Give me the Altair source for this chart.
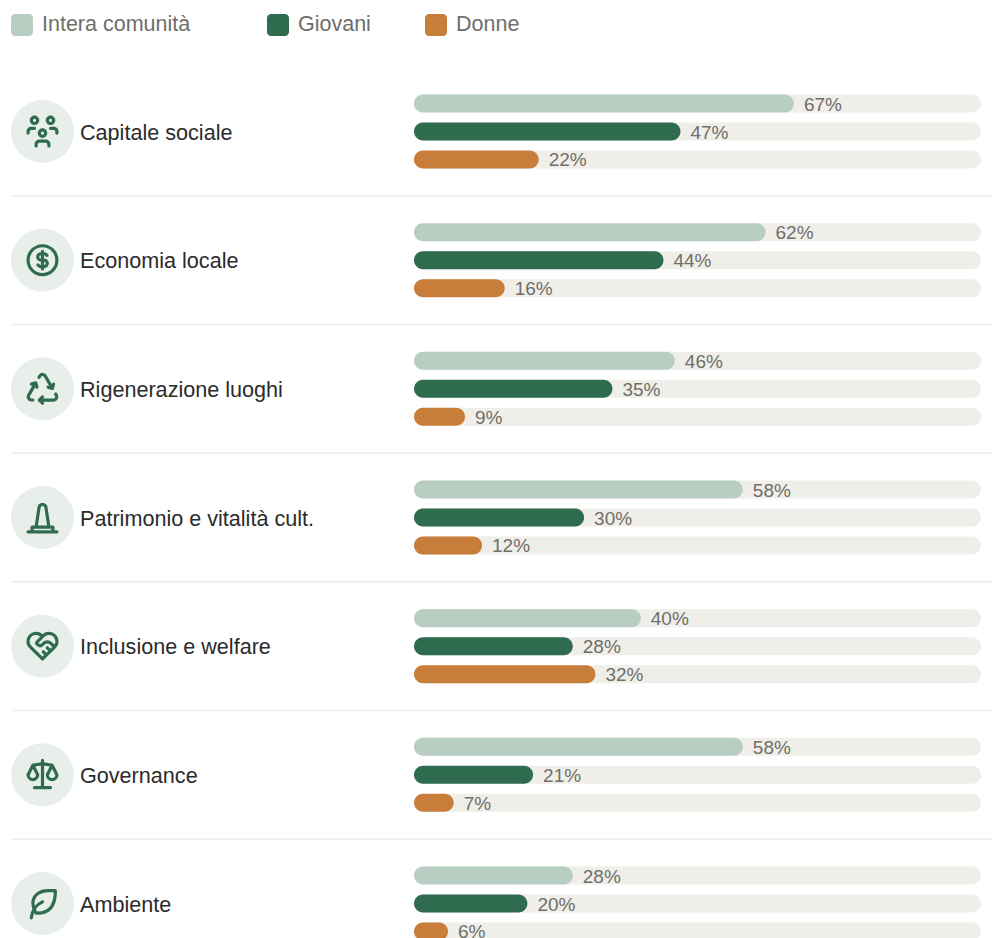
import re
import altair as alt
import pandas as pd

categories = ["Capitale sociale", "Economia locale", "Rigenerazione luoghi",
              "Patrimonio e vitalità cult.", "Inclusione e welfare", "Governance", "Ambiente"]
series = ["Intera comunità", "Giovani", "Donne"]
comunita = [67, 62, 46, 58, 40, 58, 28]
giovani = [47, 44, 35, 30, 28, 21, 20]
donne = [22, 16, 9, 12, 32, 7, 6]
colors = ["#B9CEC3", "#2F6B4F", "#C87E3A"]
legend_left = [3, 259, 417]
legend_text_left = [34, 290, 448]

FONT = "Liberation Sans"
TRACK = "#EFEEE9"
SLOT_STEP = 28 / 128.68


def centered(path):
    return re.sub(r"M(-?[\d.]+) (-?[\d.]+)",
                  lambda m: f"M{float(m.group(1)) - 12:g} {float(m.group(2)) - 12:g}", path)


icons = [centered(p) for p in [
    "M10 13a2 2 0 1 0 4 0a2 2 0 0 0 -4 0M8 21v-1a2 2 0 0 1 2 -2h4a2 2 0 0 1 2 2v1M15 5a2 2 0 1 0 4 0a2 2 0 0 0 -4 0M17 10h2a2 2 0 0 1 2 2v1M5 5a2 2 0 1 0 4 0a2 2 0 0 0 -4 0M3 13v-1a2 2 0 0 1 2 -2h2",
    "M3 12a9 9 0 1 0 18 0a9 9 0 1 0 -18 0M14.8 9a2 2 0 0 0 -1.8 -1h-2a2 2 0 1 0 0 4h2a2 2 0 1 1 0 4h-2a2 2 0 0 1 -1.8 -1M12 6.5v11",
    "M12 17l-2 2l2 2M10 19h9a2 2 0 0 0 1.75 -2.75l-.55 -1M8.536 11l-.732 -2.732l-2.732 .732M7.804 8.268l-4.5 7.794a2 2 0 0 0 1.506 2.89l1.141 .024M15.464 11l2.732 .732l.732 -2.732M18.196 11.732l-4.5 -7.794a2 2 0 0 0 -3.256 -.14l-.591 .976",
    "M8 18l1.8 -12a2.2 2.2 0 0 1 4.4 0l1.8 12M5.5 21v-3h13v3M3 21h18",
    "M19.5 12.572l-7.5 7.428l-7.5 -7.428a5 5 0 1 1 7.5 -6.566a5 5 0 1 1 7.5 6.572M12 6l-3.293 3.293a1 1 0 0 0 0 1.414l.543 .543c.69 .69 1.81 .69 2.5 0l1 -1a3.182 3.182 0 0 1 4.5 0l2.25 2.25M12.5 15.5l2 2M15 13l2 2",
    "M7 20l10 0M6 6l6 -1l6 1M12 3l0 17M9 12l-3 -6l-3 6a3 3 0 0 0 6 0M21 12l-3 -6l-3 6a3 3 0 0 0 6 0",
    "M5 21c.5 -4.5 2.5 -8 7 -10M9 18c6.218 0 10.5 -3.288 11 -12v-2h-4.014c-7.2 0 -9.986 4 -10 8c0 2 0 3 2 6h1",
]]

rows = pd.DataFrame({"category": categories, "row": range(len(categories)), "icon": icons})
bars = pd.DataFrame([
    {"category": c, "series": s, "value": v, "zero": 0, "full": 100,
     "pos": i + (j - 1) * SLOT_STEP, "label": f"{v}%"}
    for j, (s, vals) in enumerate(zip(series, [comunita, giovani, donne]))
    for i, (c, v) in enumerate(zip(categories, vals))
])
seps = pd.DataFrame({"pos": [i + 0.5 for i in range(len(categories) - 1)]})
legend = pd.DataFrame({"series": series, "x0": legend_left,
                       "x1": [v + 22 for v in legend_left], "tx": legend_text_left})

xs = alt.Scale(domain=[0, 100], range=[406, 973], nice=False, zero=False, padding=0)
ys = alt.Scale(domain=[0, 6], range=[123.5, 895.5], nice=False, zero=False, padding=0)
cs = alt.Scale(domain=series, range=colors)
X = alt.X("zero:Q", scale=xs, axis=None)
Y = alt.Y("pos:Q", scale=ys, axis=None)
YR = alt.Y("row:Q", scale=ys, axis=None)

sep_layer = alt.Chart(seps).mark_rule(color="#EEEDE8", strokeWidth=1.5).encode(
    x=alt.value(3), x2=alt.value(985), y=Y)
track = alt.Chart(bars).mark_bar(orient="horizontal", height=18, cornerRadius=9, color=TRACK).encode(
    x=X, x2="full:Q", y=Y)
fill = alt.Chart(bars).mark_bar(orient="horizontal", height=18, cornerRadius=9).encode(
    x=X, x2="value:Q", y=Y, color=alt.Color("series:N", scale=cs, legend=None))
values = alt.Chart(bars).mark_text(align="left", baseline="middle", dx=10, dy=1, font=FONT,
                                   fontSize=19, color="#6F6E6A").encode(
    x=alt.X("value:Q", scale=xs, axis=None), y=Y, text="label:N")
circle = alt.Chart(rows).mark_circle(size=3969, color="#E8EFEB", opacity=1).encode(
    x=alt.value(34.5), y=YR)
icon = alt.Chart(rows).mark_point(filled=False, size=10.24, color="#2F6B4F", strokeWidth=3.2,
                                  opacity=1, strokeCap="round", strokeJoin="round").encode(
    x=alt.value(34.5), y=YR, shape=alt.Shape("icon:N", scale=None, legend=None))
names = alt.Chart(rows).mark_text(align="left", baseline="middle", dy=2, font=FONT, fontSize=21.6,
                                  color="#2B2B2B").encode(
    x=alt.value(72), y=YR, text="category:N")
leg_sq = alt.Chart(legend).mark_rect(cornerRadius=4).encode(
    x=alt.X("x0:Q", scale=None), x2="x1:Q", y=alt.value(6), y2=alt.value(28),
    color=alt.Color("series:N", scale=cs, legend=None))
leg_tx = alt.Chart(legend).mark_text(align="left", baseline="middle", font=FONT, fontSize=21.5,
                                     color="#6F6E6A").encode(
    x=alt.X("tx:Q", scale=None), y=alt.value(16.5), text="series:N")

chart = alt.layer(sep_layer, track, fill, values, circle, icon, names, leg_sq, leg_tx).properties(
    width=985, height=930, padding=0, background="white",
    autosize=alt.AutoSizeParams(type="none"),
).configure_view(stroke=None)

chart.save("out.html", embed_options={"renderer": "svg", "actions": False})
